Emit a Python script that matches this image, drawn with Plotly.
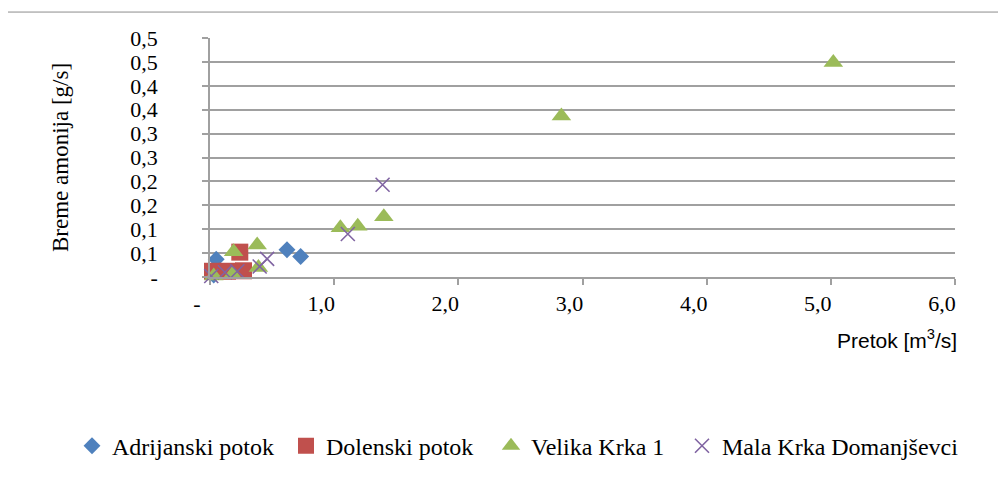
import plotly.graph_objects as go

# ---- data ----
adr_x = [0.03, 0.05, 0.62, 0.73]
adr_y = [0.004, 0.037, 0.057, 0.043]

dol_x = [0.02, 0.14, 0.24, 0.27]
dol_y = [0.012, 0.012, 0.052, 0.013]

vel_x = [0.03, 0.18, 0.19, 0.38, 0.39, 1.05, 1.19, 1.40, 2.83, 5.02]
vel_y = [0.002, 0.005, 0.053, 0.067, 0.020, 0.103, 0.106, 0.126, 0.337, 0.449]

mal_x = [0.01, 0.12, 0.22, 0.40, 0.46, 1.11, 1.39]
mal_y = [0.002, 0.010, 0.012, 0.022, 0.038, 0.090, 0.193]

x_ticks = [0, 1, 2, 3, 4, 5, 6]
x_ticktext = ["-", "1,0", "2,0", "3,0", "4,0", "5,0", "6,0"]
y_ticks = [0, 0.05, 0.1, 0.15, 0.2, 0.25, 0.3, 0.35, 0.4, 0.45, 0.5]
y_ticktext = ["-", "0,1", "0,1", "0,2", "0,2", "0,3", "0,3", "0,4", "0,4", "0,5", "0,5"]

series = [
    ("Adrijanski potok", adr_x, adr_y, "#4F81BD", "diamond", 13),
    ("Dolenski potok", dol_x, dol_y, "#C0504D", "square", 17),
    ("Velika Krka 1", vel_x, vel_y, "#9BBB59", "triangle-up", 17),
    ("Mala Krka Domanjševci", mal_x, mal_y, "#8064A2", "x-thin", 14),
]

SERIF = "Liberation Serif, Times New Roman, serif"
SANS = "Liberation Sans, Arial, sans-serif"
GRID = "#A0A0A0"

# page offset of the figure (browser default body margin)
OFF = 8
W, H = 1006, 480
# desired plot area in page pixels
PL, PR, PT, PB = 210, 955, 38, 277.5
L, T = PL - OFF, PT - OFF
R = W - (PR - OFF)
B = H - (PB - OFF)
pw, ph = PR - PL, PB - PT


def px(xp):
    return (xp - PL) / pw


def py(yp):
    return (PB - yp) / ph


legend_ids = ["legend", "legend2", "legend3", "legend4"]
legend_left = [72, 286, 491, 682]

fig = go.Figure()
for (name, xs, ys, col, sym, sz), lid in zip(series, legend_ids):
    marker = dict(color=col, symbol=sym, size=sz)
    if sym == "x-thin":
        marker["line"] = dict(color=col, width=1.6)
    else:
        marker["line"] = dict(width=0)
    fig.add_trace(go.Scatter(x=xs, y=ys, mode="markers", name=name,
                             marker=marker, cliponaxis=False, legend=lid))

legend_layout = {}
for lid, lx in zip(legend_ids, legend_left):
    legend_layout[lid] = dict(orientation="h", xref="paper", yref="paper",
                              x=px(lx), xanchor="left", y=py(447), yanchor="middle",
                              font=dict(family=SERIF, size=24, color="black"),
                              itemwidth=30, bgcolor="rgba(0,0,0,0)")

fig.update_layout(
    width=W, height=H,
    margin=dict(l=L, r=R, t=T, b=B, pad=0, autoexpand=False),
    paper_bgcolor="white", plot_bgcolor="white",
    font=dict(family=SERIF, size=22, color="black"),
    showlegend=True,
    **legend_layout,
    xaxis=dict(range=[0, 6], tickvals=x_ticks, ticktext=x_ticktext,
               showgrid=False, zeroline=False, showline=True,
               linecolor=GRID, linewidth=1.5, ticks="outside", ticklen=6,
               tickcolor=GRID, tickwidth=1.5, ticklabelshift=-13,
               tickfont=dict(family=SERIF, size=22, color="black")),
    yaxis=dict(range=[0, 0.5], tickvals=y_ticks, ticktext=y_ticktext,
               showgrid=True, gridcolor=GRID, gridwidth=1.5, zeroline=False,
               showline=True, linecolor=GRID, linewidth=1.5,
               ticks="outside", ticklen=6, tickcolor=GRID, tickwidth=1.5,
               ticklabelstandoff=40,
               tickfont=dict(family=SERIF, size=22, color="black"),
               title=dict(text="Breme amonija [g/s]", standoff=55,
                          font=dict(family=SERIF, size=23, color="black"))),
    shapes=[dict(type="rect", xref="paper", yref="paper",
                 x0=px(3), x1=px(1030), y0=py(12), y1=py(500),
                 line=dict(color="#8C8C8C", width=1), fillcolor="rgba(0,0,0,0)",
                 layer="below")],
    annotations=[dict(text="Pretok [m<sup>3</sup>/s]", xref="paper", yref="paper",
                      x=px(959), y=py(340), xanchor="right", yanchor="middle",
                      showarrow=False,
                      font=dict(family=SANS, size=21, color="black"))],
)

fig.write_html("out.html")
